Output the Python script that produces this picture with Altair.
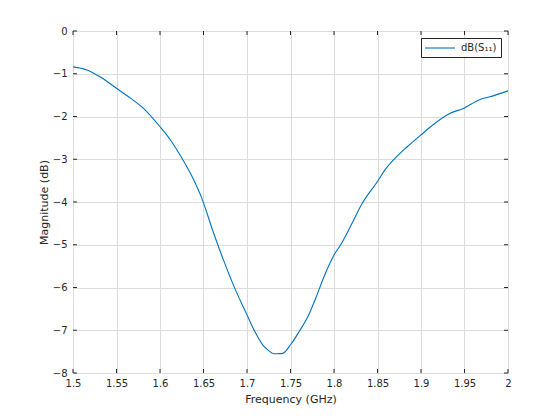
import altair as alt
import pandas as pd

freq = [1.500, 1.516, 1.531, 1.550, 1.566, 1.581, 1.600, 1.612, 1.623, 1.637,
        1.648, 1.661, 1.673, 1.686, 1.700, 1.708, 1.718, 1.724, 1.731, 1.735,
        1.741, 1.750, 1.760, 1.770, 1.779, 1.7885, 1.800, 1.8077, 1.819, 1.8325,
        1.850, 1.8586, 1.874, 1.8835, 1.900, 1.911, 1.933, 1.9487, 1.968, 1.979, 2.000]
mag = [-0.84, -0.91, -1.07, -1.34, -1.57, -1.81, -2.24, -2.55, -2.90, -3.41,
       -3.91, -4.69, -5.36, -6.02, -6.64, -6.99, -7.34, -7.46, -7.55, -7.55,
       -7.54, -7.34, -7.03, -6.68, -6.25, -5.75, -5.24, -5.00, -4.57, -4.03,
       -3.52, -3.25, -2.90, -2.72, -2.43, -2.24, -1.93, -1.81, -1.60, -1.54, -1.40]
series_name = "dB(S₁₁)"
x_ticks = [1.5, 1.55, 1.6, 1.65, 1.7, 1.75, 1.8, 1.85, 1.9, 1.95, 2.0]
y_ticks = [0, -1, -2, -3, -4, -5, -6, -7, -8]

df = pd.DataFrame({"f": freq, "m": mag, "s": [series_name] * len(freq)})
xt = pd.DataFrame({"f": x_ticks})
yt = pd.DataFrame({"m": y_ticks})

W, H = 435, 342
FONT = "DejaVu Sans"
TXT = "#262626"

xscale = alt.Scale(domain=[1.5, 2.0], nice=False, zero=False)
yscale = alt.Scale(domain=[-8, 0], nice=False, zero=False)

xaxis = alt.Axis(values=x_ticks, format="~g", title="Frequency (GHz)", grid=True,
                 gridColor="#dcdcdc", ticks=False, domain=False, labelPadding=5,
                 labelFont=FONT, labelFontSize=10, labelColor=TXT,
                 titleFont=FONT, titleFontSize=11, titleFontWeight="normal",
                 titleColor=TXT, titlePadding=5, labelFlush=False)
yaxis = alt.Axis(values=y_ticks, format="~g", title="Magnitude (dB)", grid=True,
                 gridColor="#dcdcdc", ticks=False, domain=False, labelPadding=6,
                 labelFont=FONT, labelFontSize=10, labelColor=TXT,
                 titleFont=FONT, titleFontSize=11, titleFontWeight="normal",
                 titleColor=TXT, titlePadding=3, labelFlush=False)

X = alt.X("f:Q", scale=xscale, axis=xaxis)
Y = alt.Y("m:Q", scale=yscale, axis=yaxis)

line = alt.Chart(df).mark_line(strokeWidth=1.1, clip=True, interpolate="monotone").encode(
    x=X,
    y=Y,
    color=alt.Color("s:N", scale=alt.Scale(range=["#0072BD"]),
                    legend=alt.Legend(title=None, orient="none", legendX=W - 87, legendY=7,
                                      symbolType="M-3,0L3,0", symbolSize=100,
                                      symbolStrokeWidth=1.1, fillColor="white",
                                      strokeColor="#262626", padding=4,
                                      symbolOffset=9, labelOffset=15,
                                      labelFont=FONT, labelFontSize=10, labelColor=TXT,
                                      cornerRadius=0)),
)

tick_len = 4
bx = alt.Chart(xt).mark_rule(color=TXT, strokeWidth=1).encode(
    x=X, y=alt.value(H), y2=alt.value(H - tick_len))
tx = alt.Chart(xt).mark_rule(color=TXT, strokeWidth=1).encode(
    x=X, y=alt.value(0), y2=alt.value(tick_len))
ly = alt.Chart(yt).mark_rule(color=TXT, strokeWidth=1).encode(
    y=Y, x=alt.value(0), x2=alt.value(tick_len))
ry = alt.Chart(yt).mark_rule(color=TXT, strokeWidth=1).encode(
    y=Y, x=alt.value(W), x2=alt.value(W - tick_len))

chart = alt.layer(line, bx, tx, ly, ry).properties(
    width=W, height=H,
    autosize=alt.AutoSizeParams(type="none"),
    padding={"left": 65, "top": 23, "right": 44, "bottom": 39},
).configure_view(stroke=TXT, strokeWidth=1).configure(background="white")

chart.save("out.html", embed_options={"renderer": "svg", "actions": False})
